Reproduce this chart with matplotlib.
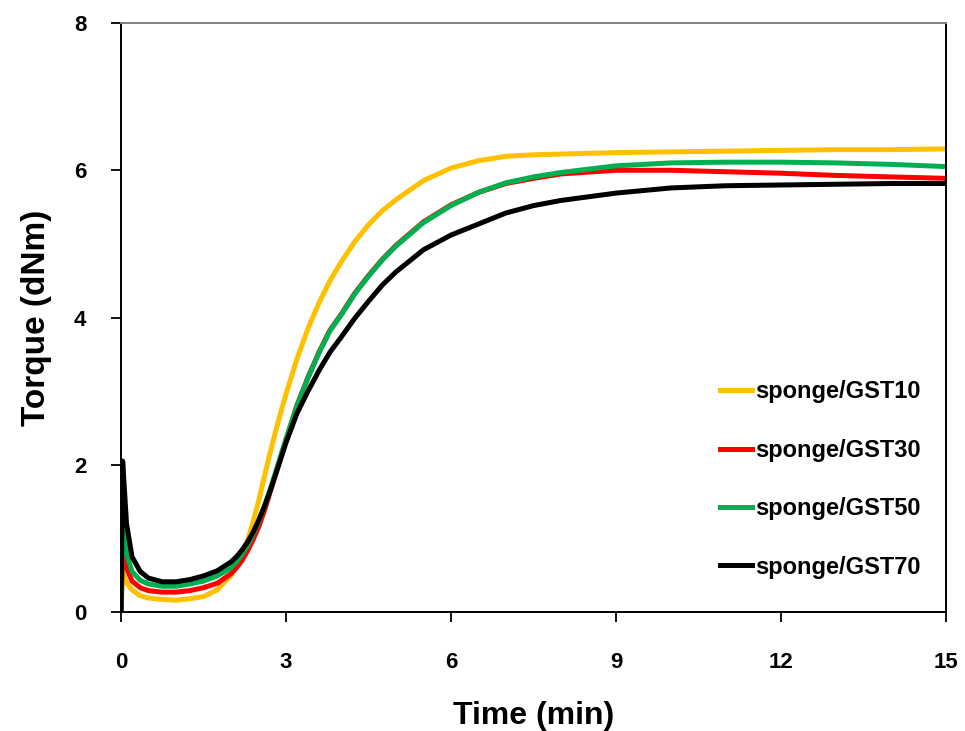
import numpy as np
import matplotlib
matplotlib.use('Agg')
import matplotlib.pyplot as plt
from matplotlib import rc

# Data (time in min, torque in dNm)
time_min = [0, 0.03, 0.1, 0.2, 0.35, 0.5, 0.75, 1.0, 1.25, 1.5, 1.75, 2.0, 2.1, 2.2,
            2.3, 2.4, 2.5, 2.6, 2.7, 2.8, 2.9, 3.0, 3.2, 3.4, 3.6, 3.8, 4.0, 4.25,
            4.5, 4.75, 5.0, 5.5, 6.0, 6.5, 7.0, 7.5, 8.0, 9.0, 10.0, 11.0, 12.0,
            13.0, 14.0, 15.0]

gst10 = [0, 0.55, 0.40, 0.30, 0.22, 0.19, 0.17, 0.16, 0.18, 0.21, 0.30, 0.50, 0.62, 0.77,
         0.97, 1.22, 1.50, 1.82, 2.13, 2.42, 2.70, 2.96, 3.44, 3.85, 4.20, 4.50, 4.75, 5.03,
         5.26, 5.45, 5.60, 5.86, 6.03, 6.13, 6.19, 6.21, 6.22, 6.24, 6.25, 6.26, 6.27,
         6.28, 6.28, 6.29]

gst30 = [0, 0.85, 0.60, 0.42, 0.33, 0.29, 0.27, 0.27, 0.29, 0.33, 0.39, 0.52, 0.60, 0.70,
         0.83, 0.98, 1.15, 1.36, 1.60, 1.85, 2.10, 2.34, 2.81, 3.19, 3.53, 3.83, 4.04, 4.33,
         4.57, 4.79, 4.98, 5.30, 5.53, 5.70, 5.82, 5.89, 5.95, 6.00, 6.00, 5.98, 5.96,
         5.93, 5.91, 5.89]

gst50 = [0, 1.32, 0.80, 0.55, 0.43, 0.38, 0.35, 0.35, 0.38, 0.42, 0.49, 0.60, 0.68, 0.78,
         0.90, 1.05, 1.22, 1.42, 1.64, 1.87, 2.11, 2.35, 2.80, 3.18, 3.52, 3.82, 4.03, 4.32,
         4.56, 4.78, 4.97, 5.29, 5.52, 5.70, 5.83, 5.91, 5.97, 6.06, 6.10, 6.11, 6.11,
         6.10, 6.08, 6.05]

gst70 = [0, 2.05, 1.20, 0.75, 0.55, 0.46, 0.41, 0.41, 0.44, 0.49, 0.56, 0.68, 0.75, 0.84,
         0.95, 1.08, 1.24, 1.42, 1.62, 1.84, 2.07, 2.30, 2.70, 3.00, 3.28, 3.53, 3.73, 3.99,
         4.22, 4.44, 4.62, 4.92, 5.12, 5.27, 5.42, 5.52, 5.59, 5.69, 5.76, 5.79, 5.80,
         5.81, 5.82, 5.82]

labels = ['sponge/GST10', 'sponge/GST30', 'sponge/GST50', 'sponge/GST70']
colors = ['#FFC000', '#FF0000', '#00B050', '#000000']
series = [gst10, gst30, gst50, gst70]

#*******************************************************************************
#                                F I G U R E                                   *
#*******************************************************************************
rc('font', family='Liberation Sans', weight='bold')

fig = plt.figure(figsize=(9.65, 7.31), dpi=100)
ax1 = fig.add_axes([0.1254, 0.1628, 0.8549, 0.8057])

for i in range(len(series)):
    ax1.plot(time_min, series[i], color=colors[i], linewidth=3.6, label=labels[i],
             solid_joinstyle='round')

ax1.set_xlim(0, 15)
ax1.set_ylim(0, 8)
ax1.set_xticks([0, 3, 6, 9, 12, 15])
ax1.set_yticks([0, 2, 4, 6, 8])
ax1.tick_params(direction='out', length=7, width=1.3, labelsize=16, pad=18)
ax1.tick_params(axis='x', pad=22)
for s in ax1.spines.values():
    s.set_linewidth(1.4)
ax1.spines['top'].set_color('#808080')
ax1.set_xlabel('Time (min)', fontsize=23, fontweight='bold', labelpad=20)
ax1.set_ylabel('Torque (dNm)', fontsize=24, fontweight='bold', labelpad=16)

ax1.legend(loc='center left', bbox_to_anchor=(0.726, 0.225), frameon=False,
           fontsize=17, borderpad=0, borderaxespad=0, handlelength=1.35,
           handletextpad=0.15, labelspacing=1.5)

fig.savefig('out.png', dpi=100)
plt.close('all')
